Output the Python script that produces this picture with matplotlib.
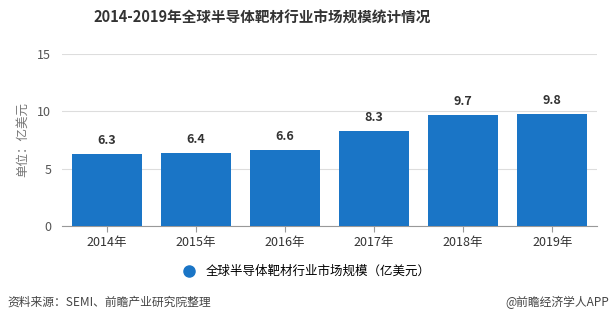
import matplotlib.pyplot as plt

plt.rcParams['font.family'] = ['Noto Sans CJK SC', 'DejaVu Sans']

years = ['2014年', '2015年', '2016年', '2017年', '2018年', '2019年']
values = [6.3, 6.4, 6.6, 8.3, 9.7, 9.8]
yticks = [0, 5, 10, 15]

fig = plt.figure(figsize=(6.12, 3.25), dpi=100)
ax = fig.add_axes([0.102, 0.3046, 0.873, 0.5294])

bar_color = '#1a75c6'
x = range(len(years))
ax.bar(x, values, width=0.78, color=bar_color, zorder=3)

# value labels
for xi, v in zip(x, values):
    ax.text(xi, v + 0.6, f'{v}', ha='center', va='bottom',
            fontsize=9, fontweight='bold', color='#333333')

ax.set_xlim(-0.5, len(years) - 0.5)
ax.set_ylim(0, 15)
ax.set_yticks(yticks)
ax.set_xticks(list(x))
ax.set_xticklabels(years)
ax.tick_params(axis='y', length=0, labelsize=9, colors='#555555', pad=8)
ax.tick_params(axis='x', length=4, color='#999999', labelsize=9,
               labelcolor='#333333', pad=3)
ax.grid(axis='y', color='#dddddd', linewidth=0.8, zorder=0)
for s in ['top', 'right', 'left']:
    ax.spines[s].set_visible(False)
ax.spines['bottom'].set_color('#999999')

ax.set_ylabel('单位：亿美元', fontsize=9, color='#777777', labelpad=6)

# title
fig.text(0.428, 0.945, '2014-2019年全球半导体靶材行业市场规模统计情况',
         ha='center', va='center', fontsize=10.5, fontweight='bold', color='#333333')

fig.legend(handles=[plt.Line2D([], [], marker='o', linestyle='none',
                               markersize=8, color=bar_color)],
           labels=['全球半导体靶材行业市场规模（亿美元）'],
           loc='center', bbox_to_anchor=(0.496, 0.165), frameon=False,
           fontsize=9, handletextpad=0.3)

# footer
fig.text(0.012, 0.07, '资料来源：SEMI、前瞻产业研究院整理', ha='left', va='center',
         fontsize=8.5, color='#444444')
fig.text(0.995, 0.07, '@前瞻经济学人APP', ha='right', va='center',
         fontsize=8.5, color='#444444')

fig.savefig('out.png', dpi=100)
